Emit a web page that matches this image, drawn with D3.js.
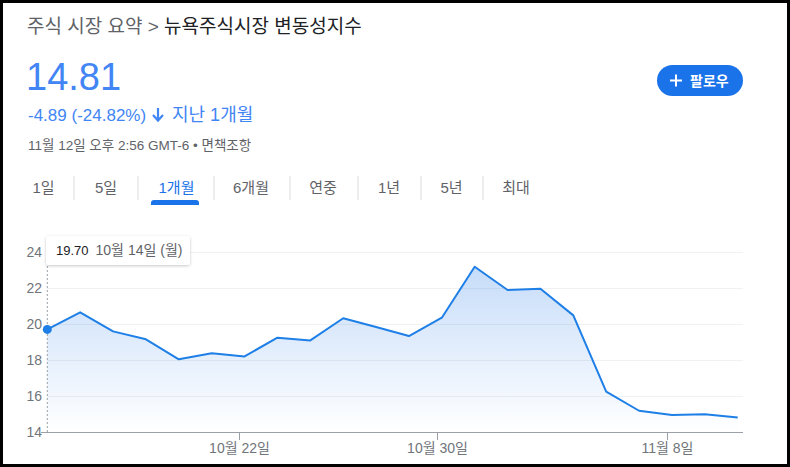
<!DOCTYPE html>
<html><head><meta charset="utf-8">
<script src="https://cdn.jsdelivr.net/npm/d3@7/dist/d3.min.js"></script>
<style>
html,body{margin:0;padding:0;background:#000;}
svg{display:block;font-family:Arial,"Liberation Sans","Noto Sans CJK KR",sans-serif;}
</style></head>
<body>
<svg id="c" width="790" height="467"></svg>
<script>
// ---- data ----
const dayLabels = ["10월 14일 (월)","10월 15일 (화)","10월 16일 (수)","10월 17일 (목)","10월 18일 (금)",
  "10월 21일 (월)","10월 22일 (화)","10월 23일 (수)","10월 24일 (목)","10월 25일 (금)",
  "10월 28일 (월)","10월 29일 (화)","10월 30일 (수)","10월 31일 (목)","11월 1일 (금)",
  "11월 4일 (월)","11월 5일 (화)","11월 6일 (수)","11월 7일 (목)","11월 8일 (금)",
  "11월 11일 (월)","11월 12일 (화)"];
const values = [19.70,20.65,19.59,19.15,18.04,18.37,18.20,19.24,19.09,20.32,
  19.83,19.33,20.35,23.18,21.89,21.96,20.48,16.24,15.18,14.94,14.98,14.81];
const yTicks = [14,16,18,20,22,24];
const xTickIndex = [6,12,19];
const xTickLabels = ["10월 22일","10월 30일","11월 8일"];
const tabs = ["1일","5일","1개월","6개월","연중","1년","5년","최대"];
const activeTab = "1개월";

const svg = d3.select("#c");
svg.append("rect").attr("x",3).attr("y",3).attr("width",784).attr("height",461).attr("fill","#fff");

// header
const crumb = svg.append("text").attr("x",27).attr("y",33).attr("font-size",19);
crumb.append("tspan").attr("fill","#5f6368").text("주식 시장 요약 > ");
crumb.append("tspan").attr("fill","#202124").text("뉴욕주식시장 변동성지수");

svg.append("text").attr("x",26).attr("y",90).attr("font-size",38).attr("fill","#4285f4").text("14.81");

const chg = svg.append("text").attr("x",28).attr("y",121).attr("fill","#4285f4");
chg.append("tspan").attr("font-size",17).text("-4.89 (-24.82%)");
// arrow
svg.append("path").attr("d","M158 108 V120 M153 115 L158 120.5 L163 115")
  .attr("stroke","#4285f4").attr("stroke-width",2.2).attr("fill","none");
svg.append("text").attr("x",172).attr("y",121).attr("font-size",18).attr("fill","#4285f4").text("지난 1개월");

svg.append("text").attr("x",28).attr("y",150).attr("font-size",13.5).attr("fill","#5f6368")
  .text("11월 12일 오후 2:56 GMT-6 • 면책조항");

// follow button
svg.append("rect").attr("x",657).attr("y",65).attr("width",86).attr("height",31).attr("rx",15.5).attr("fill","#1a73e8");
svg.append("path").attr("d","M670 80.5 H682 M676 74.5 V86.5").attr("stroke","#fff").attr("stroke-width",2);
svg.append("text").attr("x",690).attr("y",86).attr("font-size",14).attr("fill","#fff").attr("font-weight","bold").text("팔로우");

// tabs
const tabX = [43.5,106,176.5,251,323,389,451.5,516];
const sepX = [74,138,214,290,358,421,483];
tabs.forEach((t,i)=>{
  svg.append("text").attr("x",tabX[i]).attr("y",193).attr("text-anchor","middle").attr("font-size",15)
    .attr("fill", t===activeTab ? "#1a73e8" : "#5f6368").text(t);
});
sepX.forEach(x=>svg.append("line").attr("x1",x).attr("x2",x).attr("y1",176).attr("y2",200).attr("stroke","#dadce0"));
svg.append("path").attr("d","M151 205 V203 a3 3 0 0 1 3 -3 H196 a3 3 0 0 1 3 3 V205 Z").attr("fill","#1a73e8");

// chart
const x = d3.scaleLinear().domain([0, values.length-1]).range([47.3, 737.7]);
const y = d3.scaleLinear().domain([14,24]).range([432,252]);
const tickShift = -0.16;

const defs = svg.append("defs");
const g = defs.append("linearGradient").attr("id","fillg").attr("gradientUnits","userSpaceOnUse")
  .attr("x1",0).attr("x2",0).attr("y1",y(24)).attr("y2",y(14));
g.append("stop").attr("offset",0).attr("stop-color","#1a73e8").attr("stop-opacity",0.27);
g.append("stop").attr("offset",1).attr("stop-color","#1a73e8").attr("stop-opacity",0.0);

// grid
svg.append("g").selectAll("line").data(yTicks.filter(v=>v!==14)).join("line")
  .attr("x1",47).attr("x2",743).attr("y1",d=>y(d)+0.5).attr("y2",d=>y(d)+0.5)
  .attr("stroke","#f1f1f1").attr("stroke-width",1);

// y labels
svg.append("g").selectAll("text").data(yTicks).join("text")
  .attr("x",42).attr("y",d=>y(d)+5).attr("text-anchor","end").attr("font-size",14).attr("fill","#70757a")
  .text(d=>d);

// area + line
const area = d3.area().x((d,i)=>x(i)).y0(y(14)).y1(d=>y(d));
svg.append("path").datum(values).attr("d",area).attr("fill","url(#fillg)");
const line = d3.line().x((d,i)=>x(i)).y(d=>y(d));

// dashed hover line
svg.append("line").attr("x1",x(0)).attr("x2",x(0)).attr("y1",266).attr("y2",432)
  .attr("stroke","#9aa0a6").attr("stroke-dasharray","2,2").attr("stroke-width",1);

svg.append("path").datum(values).attr("d",line).attr("fill","none").attr("stroke","#1e7fe6")
  .attr("stroke-width",2).attr("stroke-linejoin","round");

// x axis
svg.append("line").attr("x1",41).attr("x2",743).attr("y1",432.5).attr("y2",432.5).attr("stroke","#9aa0a6");
const xt = svg.append("g").selectAll("g").data(xTickIndex).join("g")
  .attr("transform",d=>`translate(${Math.round(x(d+tickShift))+0.5},0)`);
xt.append("line").attr("y1",432).attr("y2",440).attr("stroke","#9aa0a6");
xt.append("text").attr("y",453).attr("text-anchor","middle").attr("font-size",14).attr("fill","#70757a")
  .text((d,i)=>xTickLabels[i]);

// hover dot
svg.append("circle").attr("cx",x(0)).attr("cy",y(values[0])).attr("r",4.5).attr("fill","#1e7fe6");

// tooltip
const filt = defs.append("filter").attr("id","sh").attr("x","-20%").attr("y","-40%").attr("width","140%").attr("height","180%");
filt.append("feDropShadow").attr("dx",0).attr("dy",1).attr("stdDeviation",1.5).attr("flood-color","#000").attr("flood-opacity",0.22);
svg.append("rect").attr("x",46).attr("y",236).attr("width",144).attr("height",29).attr("rx",3)
  .attr("fill","#fff").attr("filter","url(#sh)");
const tt = svg.append("text").attr("x",56).attr("y",255);
tt.append("tspan").attr("font-size",13).attr("fill","#202124").text(values[0].toFixed(2));
tt.append("tspan").attr("dx",7).attr("font-size",14).attr("fill","#5f6368").text(dayLabels[0]);
</script>
</body></html>
